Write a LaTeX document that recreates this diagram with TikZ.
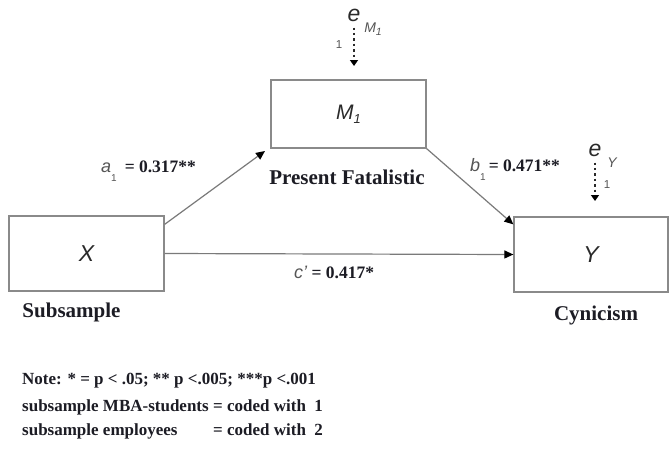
\documentclass[tikz,border=0pt]{standalone}
\usepackage{fontspec}
\setmainfont{Liberation Serif}
\setsansfont{Liberation Sans}
\usetikzlibrary{arrows.meta}
\definecolor{linegrey}{HTML}{7A7A7A}
\definecolor{boxgrey}{HTML}{8A8A8A}
\definecolor{ink}{HTML}{1C1C24}
\definecolor{varink}{HTML}{2A2A2A}
\definecolor{labgrey}{HTML}{555555}
\newcommand{\labsubf}{\sffamily\upshape\fontsize{10}{10}\selectfont}
\newcommand{\labvarf}{\sffamily\itshape\fontsize{18}{20}\selectfont}
\newcommand{\labnumf}{\rmfamily\bfseries\fontsize{17.5}{20}\selectfont}
\begin{document}
\begin{tikzpicture}[x=1pt,y=-1pt,
  varbox/.style={draw=boxgrey,line width=1.3pt,inner sep=0pt,fill=white,
    text=varink,font=\sffamily\itshape\fontsize{23}{27}\selectfont},
  pathline/.style={draw=linegrey,line width=1.2pt,-{Triangle[length=9pt,width=8pt,color=black]}},
  errline/.style={draw=varink,line width=1.4pt,dash pattern=on 2.4pt off 3pt,
    -{Triangle[length=6pt,width=8pt,color=black]}},
  efont/.style={inner sep=0pt,text=varink,font=\sffamily\itshape\fontsize{23}{27}\selectfont},
  esub/.style={inner sep=0pt,text=labgrey,font=\sffamily\itshape\fontsize{14}{16}\selectfont},
  eone/.style={inner sep=0pt,text=labgrey,font=\sffamily\fontsize{11.5}{13}\selectfont},
  bigbold/.style={inner sep=0pt,text=ink,font=\rmfamily\bfseries\fontsize{21}{25}\selectfont},
  notefont/.style={inner sep=0pt,anchor=west,text=ink,font=\rmfamily\bfseries\fontsize{17}{20}\selectfont},
  labnode/.style={inner sep=0pt,anchor=west,text=ink}
]
\fill[white] (0,0) rectangle (670,453);
\useasboundingbox (0,0) rectangle (670,453);

% boxes
\node[varbox,minimum width=155pt,minimum height=75pt] (X) at (86.5,253.5) {X};
\node[varbox,minimum width=155pt,minimum height=68pt,font=\sffamily\itshape\fontsize{21}{25}\selectfont] (M) at (348.5,114) {M\raisebox{-4pt}{\fontsize{13}{13}\selectfont 1}};
\node[varbox,minimum width=154pt,minimum height=75pt] (Y) at (591,254.5) {Y};

% paths
\coordinate (aend) at (265,151);
\draw[pathline] ([yshift=-9pt]X.north east) -- (aend);
\draw[pathline] (M.south east) -- ([yshift=-8pt]Y.north west);
\draw[pathline] (X.east) -- (Y.west);

% error terms
\node[efont] (eM) at (354,15) {e};
\node[esub] (eMs) at (373,29) {M\raisebox{-3pt}{\fontsize{10.5}{10.5}\selectfont 1}};
\node[eone] (eMo) at (339,45) {1};
\coordinate (tipM) at (354,66);
\draw[errline] ([yshift=-6pt]eM.south) -- (tipM);

\node[efont] (eY) at (595,150) {e};
\node[esub] (eYs) at (612,163) {Y};
\node[eone] (eYo) at (607,185) {1};
\coordinate (tipY) at (595,201);
\draw[errline] ([yshift=-6pt]eY.south) -- (tipY);

% path labels
\node[labnode] (la) at (101,171) {{\labvarf\color{labgrey}a}\raisebox{-9pt}{\labsubf\color{labgrey}1}\hspace{8pt}{\labnumf = 0.317**}};
\node[labnode] (lb) at (470,169) {{\labvarf\color{labgrey}b}\raisebox{-9pt}{\labsubf\color{labgrey}1}\hspace{3pt}{\labnumf = 0.471**}};
\node[labnode] (lc) at (294,272) {{\labvarf\color{labgrey}c'}{\labnumf\ = 0.417*}};

% variable names
\node[bigbold] (pf) at (347,177) {Present Fatalistic};
\node[bigbold] (sub) at (71.5,312) {Subsample};
\node[bigbold] (cyn) at (596,315) {Cynicism};

% note
\node[notefont] (n1) at (22,381) {Note: * = p < .05; ** p <.005; ***p <.001};
\node[notefont] (n2) at (22,407) {\makebox[191pt][l]{subsample MBA-students}= coded with \ 1};
\node[notefont] (n3) at (22,431) {\makebox[191pt][l]{subsample employees}= coded with \ 2};
\end{tikzpicture}
\end{document}
